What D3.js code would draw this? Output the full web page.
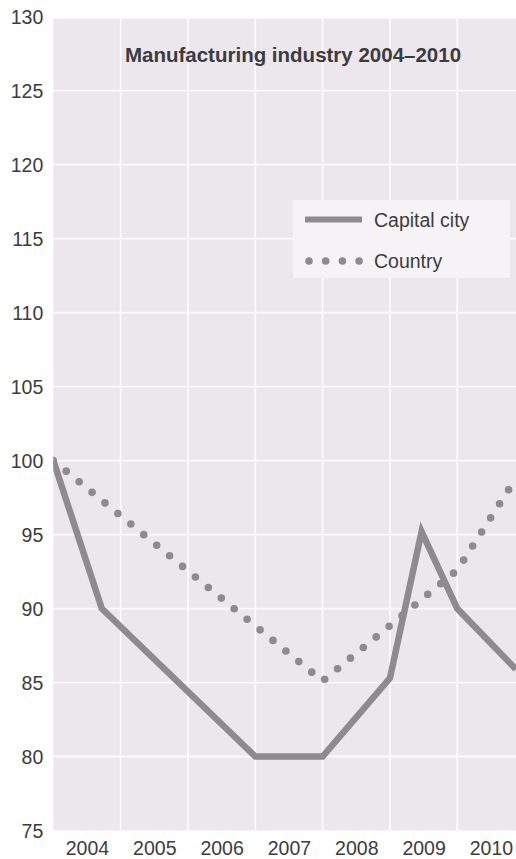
<!DOCTYPE html>
<html>
<head>
<meta charset="utf-8">
<script src="https://cdn.jsdelivr.net/npm/d3@7"></script>
<style>
  html, body { margin: 0; padding: 0; background: #ffffff; }
  svg { display: block; }
  text { font-family: "Liberation Sans", Arial, Helvetica, sans-serif; }
</style>
</head>
<body>
<svg id="chart" width="516" height="859"></svg>
<script>
// ---- data ----
const title = "Manufacturing industry 2004–2010";
const yearLabels = ["2004", "2005", "2006", "2007", "2008", "2009", "2010"];
const yTicks = [75, 80, 85, 90, 95, 100, 105, 110, 115, 120, 125, 130];
const seriesNames = ["Capital city", "Country"];
const capitalX = [2004.0, 2004.72, 2007.0, 2008.0, 2009.0, 2009.47, 2010.0, 2010.87];
const capitalY = [100, 90, 80, 80, 85.3, 95.2, 90, 85.9];
const countryX = [2004.0, 2008.0, 2010.0, 2010.87];
const countryY = [100, 85.1, 92.6, 98.8];

(function () {
// ---- layout ----
const pL = 53.3, pR = 524.6, pT = 16.7, pB = 830.5;
const bg = "#ebe7ed", grid = "#fbfafc", lineCol = "#8d8b8e", textCol = "#3d3b3e";

const svg = d3.select("#chart");
const x = d3.scaleLinear().domain([2004, 2011]).range([pL, pR]);
const y = d3.scaleLinear().domain([75, 130]).range([pB, pT]);

const defs = svg.append("defs");
defs.append("clipPath").attr("id", "plotclip")
  .append("rect").attr("x", pL).attr("y", pT).attr("width", pR - pL).attr("height", pB - pT);

// background
svg.append("rect").attr("x", pL).attr("y", pT + 2).attr("width", pR - pL).attr("height", pB - pT - 2)
  .attr("fill", bg);

// horizontal gridlines
svg.append("g").selectAll("line").data(yTicks.filter(d => d > 75 && d < 130)).join("line")
  .attr("x1", pL).attr("x2", pR)
  .attr("y1", d => y(d)).attr("y2", d => y(d))
  .attr("stroke", grid).attr("stroke-width", 1.8);

// vertical gridlines at year boundaries
const yearNums = yearLabels.map(Number);
svg.append("g").selectAll("line").data(yearNums.slice(1)).join("line")
  .attr("x1", d => x(d)).attr("x2", d => x(d))
  .attr("y1", pT + 2).attr("y2", pB)
  .attr("stroke", grid).attr("stroke-width", 1.8);

// y axis labels
const yAxis = d3.axisLeft(y).tickValues(yTicks).tickSize(0).tickPadding(0);
const gy = svg.append("g").attr("transform", `translate(${pL - 10},0)`).call(yAxis);
gy.select(".domain").remove();
gy.selectAll("text").attr("fill", textCol).attr("font-size", 19.5)
  .attr("font-family", "'Liberation Sans', Arial, sans-serif").attr("dy", "0.36em");

// x axis labels centered in year bands
const xAxis = d3.axisBottom(x).tickValues(yearNums.map(d => d + 0.5))
  .tickFormat((d, i) => yearLabels[i]).tickSize(0).tickPadding(0);
const gx = svg.append("g").attr("transform", `translate(0,${pB})`).call(xAxis);
gx.select(".domain").remove();
gx.selectAll("text").attr("fill", textCol).attr("font-size", 19.5)
  .attr("font-family", "'Liberation Sans', Arial, sans-serif").attr("dy", "0").attr("y", 24.5);

// lines
const line = d3.line().x(d => x(d[0])).y(d => y(d[1]));
const capital = capitalX.map((d, i) => [d, capitalY[i]]);
const country = countryX.map((d, i) => [d, countryY[i]]);
const plot = svg.append("g").attr("clip-path", "url(#plotclip)");
plot.append("path").attr("d", line(country)).attr("fill", "none")
  .attr("stroke", lineCol).attr("stroke-width", 7.6)
  .attr("stroke-linecap", "round").attr("stroke-dasharray", "0 16.7");
plot.append("path").attr("d", line(capital)).attr("fill", "none")
  .attr("stroke", lineCol).attr("stroke-width", 6.5)
  .attr("stroke-linejoin", "miter").attr("stroke-linecap", "butt");

// title
svg.append("text").attr("x", 293).attr("y", 62).attr("text-anchor", "middle")
  .attr("font-size", 20.5).attr("font-weight", "bold").attr("fill", textCol).text(title);

// legend
const lg = svg.append("g");
lg.append("rect").attr("x", 293).attr("y", 200).attr("width", 217).attr("height", 78).attr("fill", "#f5f3f6");
lg.append("line").attr("x1", 305).attr("x2", 362).attr("y1", 219.5).attr("y2", 219.5)
  .attr("stroke", lineCol).attr("stroke-width", 6);
lg.append("line").attr("x1", 309).attr("x2", 362).attr("y1", 261).attr("y2", 261)
  .attr("stroke", lineCol).attr("stroke-width", 7.6).attr("stroke-linecap", "round").attr("stroke-dasharray", "0 16.7");
lg.selectAll("text.leg").data(seriesNames).join("text").attr("class", "leg")
  .attr("x", 374).attr("y", (d, i) => 226.5 + i * 41.5)
  .attr("font-size", 19.5).attr("fill", textCol).text(d => d);
})();
</script>
</body>
</html>
